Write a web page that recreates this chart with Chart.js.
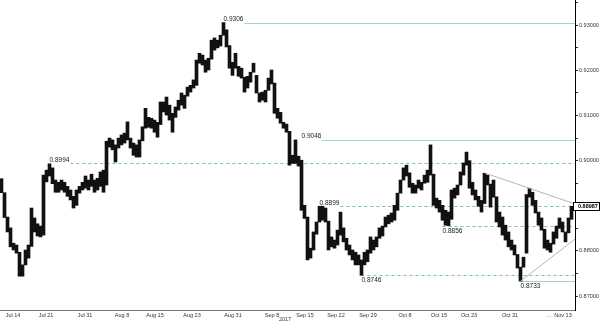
<!DOCTYPE html>
<html>
<head>
<meta charset="utf-8">
<script src="https://cdn.jsdelivr.net/npm/chart.js@4.4.0/dist/chart.umd.min.js"></script>
<style>
html,body{margin:0;padding:0;background:#fff;}
canvas{display:block;}
</style>
</head>
<body>
<canvas id="c" width="600" height="323"></canvas>
<script>
// ---- data (price highs / lows per period, left to right) ----
const highs = [
0.8960,0.8929,0.8875,0.8851,0.8817,0.8813,0.8797,0.8769,0.8802,0.8813,
0.8895,0.8873,0.8860,0.8855,0.8968,0.8979,0.8993,0.8984,0.8957,0.8952,
0.8957,0.8952,0.8943,0.8935,0.8921,0.8935,0.8943,0.8952,0.8966,0.8957,
0.8970,0.8957,0.8961,0.8975,0.8979,0.9043,0.9050,0.9046,0.9035,0.9050,
0.9057,0.9061,0.9086,0.9050,0.9039,0.9035,0.9046,0.9075,0.9116,0.9096,
0.9094,0.9090,0.9085,0.9130,0.9130,0.9141,0.9123,0.9105,0.9119,0.9134,
0.9150,0.9145,0.9163,0.9167,0.9179,0.9223,0.9238,0.9234,0.9223,0.9227,
0.9267,0.9272,0.9267,0.9278,0.9306,0.9290,0.9255,0.9218,0.9238,0.9209,
0.9205,0.9185,0.9187,0.9196,0.9216,0.9189,0.9150,0.9152,0.9156,0.9183,
0.9201,0.9172,0.9116,0.9107,0.9085,0.9081,0.9065,0.9012,0.9046,0.9010,
0.9001,0.8901,0.8875,0.8806,0.8842,0.8864,0.8899,0.8899,0.8895,0.8866,
0.8831,0.8824,0.8846,0.8886,0.8851,0.8828,0.8813,0.8802,0.8797,0.8791,
0.8780,0.8797,0.8802,0.8831,0.8824,0.8831,0.8851,0.8855,0.8875,0.8879,
0.8884,0.8901,0.8928,0.8957,0.8984,0.8990,0.8973,0.8950,0.8946,0.8957,
0.8952,0.8968,0.8979,0.9035,0.8970,0.8917,0.8912,0.8901,0.8890,0.8886,
0.8935,0.8939,0.8946,0.8975,0.8995,0.9019,0.9000,0.8952,0.8935,0.8921,
0.8912,0.8972,0.8968,0.8948,0.8957,0.8920,0.8886,0.8875,0.8857,0.8842,
0.8824,0.8813,0.8792,0.8764,0.8786,0.8925,0.8939,0.8930,0.8912,0.8886,
0.8873,0.8848,0.8824,0.8817,0.8842,0.8855,0.8873,0.8864,0.8842,0.8873,
0.8899
];
const lows = [
0.8929,0.8874,0.8842,0.8809,0.8802,0.8795,0.8744,0.8744,0.8769,0.8784,
0.8810,0.8842,0.8833,0.8831,0.8835,0.8953,0.8966,0.8949,0.8930,0.8930,
0.8935,0.8930,0.8921,0.8913,0.8895,0.8901,0.8928,0.8935,0.8939,0.8935,
0.8943,0.8930,0.8935,0.8943,0.8930,0.8946,0.9030,0.9024,0.8997,0.9028,
0.9035,0.9039,0.9046,0.9028,0.9012,0.9008,0.9008,0.9044,0.9072,0.9074,
0.9072,0.9063,0.9052,0.9080,0.9108,0.9101,0.9090,0.9063,0.9096,0.9112,
0.9123,0.9116,0.9143,0.9152,0.9161,0.9167,0.9216,0.9212,0.9196,0.9201,
0.9225,0.9245,0.9250,0.9254,0.9278,0.9252,0.9205,0.9189,0.9205,0.9187,
0.9183,0.9152,0.9161,0.9174,0.9196,0.9150,0.9130,0.9134,0.9130,0.9156,
0.9170,0.9105,0.9094,0.9083,0.9072,0.9063,0.8990,0.8994,0.8994,0.8988,
0.8890,0.8872,0.8780,0.8784,0.8802,0.8837,0.8864,0.8868,0.8864,0.8802,
0.8809,0.8806,0.8813,0.8835,0.8820,0.8802,0.8791,0.8780,0.8769,0.8769,
0.8746,0.8769,0.8776,0.8795,0.8802,0.8809,0.8828,0.8833,0.8853,0.8860,
0.8864,0.8868,0.8890,0.8928,0.8957,0.8966,0.8941,0.8928,0.8928,0.8939,
0.8935,0.8950,0.8952,0.8968,0.8901,0.8895,0.8886,0.8868,0.8857,0.8856,
0.8870,0.8917,0.8924,0.8946,0.8968,0.8990,0.8939,0.8924,0.8913,0.8899,
0.8886,0.8905,0.8946,0.8897,0.8919,0.8864,0.8853,0.8835,0.8824,0.8809,
0.8802,0.8791,0.8762,0.8733,0.8764,0.8795,0.8919,0.8901,0.8884,0.8857,
0.8846,0.8806,0.8802,0.8797,0.8815,0.8828,0.8850,0.8842,0.8820,0.8840,
0.8870
];
// date tick labels and the period index at which each sits
const tickLabels = ['Jul 14','Jul 21','Jul 31','Aug 8','Aug 15','Aug 23','Aug 31','Sep 8','Sep 15','Sep 22','Sep 29','Oct 8','Oct 15','Oct 23','Oct 31','...','Nov 13'];
const tickAt     = [3.83, 14.83, 27.83, 40.17, 51.17, 63.5, 77.17, 90.17, 101.17, 111.5, 122.17, 134.5, 145.83, 155.83, 169.5, 182.5, 187.17];
const yearLabel = '2017';
const yearAt = 94.5;
// support / resistance levels and the period where each is marked
const levelValues = [0.9306, 0.9046, 0.8994, 0.8899, 0.8856, 0.8746, 0.8733];
const levelFrom   = [74, 100, 16, 106, 147, 120, 173];
// triangle trend lines (period index, price)
const upperTrend = [{x:161, y:0.8973}, {x:191.17, y:0.8904}];
const lowerTrend = [{x:173, y:0.8733}, {x:191.17, y:0.8826}];
const lastClose = 0.88987;
const yMin = 0.86690, yMax = 0.93561;

// ---- styling for levels (kept apart from data) ----
const levelStyle = {
  '0.9306': {dash: false, below: false},
  '0.9046': {dash: false, below: false},
  '0.8994': {dash: true,  below: false},
  '0.8899': {dash: true,  below: false},
  '0.8856': {dash: true,  below: true},
  '0.8746': {dash: true,  below: true},
  '0.8733': {dash: false, below: true}
};
const FONT = '"Liberation Sans", Arial, sans-serif';

const levelsPlugin = {
  id: 'levels',
  beforeDatasetsDraw(chart) {
    const {ctx, chartArea, scales:{x, y}} = chart;
    ctx.save();
    ctx.font = '6.5px ' + FONT;
    levelValues.forEach((v, i) => {
      const key = v.toFixed(4);
      const st = levelStyle[key];
      const py = Math.round(y.getPixelForValue(v)) + 0.5;
      const px = x.getPixelForValue(levelFrom[i]);
      const w = ctx.measureText(key).width;
      const x0 = st.below ? px : px + w + 1;
      ctx.beginPath();
      ctx.lineWidth = 1;
      if (st.dash) { ctx.setLineDash([3, 3]); ctx.strokeStyle = 'rgb(120,192,178)'; }
      else { ctx.setLineDash([]); ctx.strokeStyle = 'rgb(160,210,200)'; }
      ctx.moveTo(x0, py);
      ctx.lineTo(chartArea.right, py);
      ctx.stroke();
    });
    ctx.restore();
  },
  afterDatasetsDraw(chart) {
    const {ctx, chartArea, scales:{x, y}} = chart;
    ctx.save();
    ctx.font = '6.5px ' + FONT;
    ctx.fillStyle = '#222';
    levelValues.forEach((v, i) => {
      const key = v.toFixed(4);
      const st = levelStyle[key];
      const py = y.getPixelForValue(v);
      const px = x.getPixelForValue(levelFrom[i]);
      if (st.below) { ctx.textBaseline = 'top'; ctx.fillText(key, px, py + 2); }
      else { ctx.textBaseline = 'alphabetic'; ctx.fillText(key, px, py - 1.5); }
    });
    // last price box
    const ly = y.getPixelForValue(lastClose);
    ctx.fillStyle = '#fff';
    ctx.strokeStyle = '#000';
    ctx.lineWidth = 1;
    ctx.fillRect(chartArea.right - 2, ly - 4, 27, 8);
    ctx.strokeRect(chartArea.right - 2 + 0.5, Math.round(ly - 4) + 0.5, 26, 8);
    ctx.fillStyle = '#000';
    ctx.font = 'bold 5.5px ' + FONT;
    ctx.textBaseline = 'middle';
    ctx.textAlign = 'left';
    ctx.fillText(lastClose.toFixed(5), chartArea.right + 3, ly + 0.5);
    // year label
    ctx.font = '5.5px ' + FONT;
    ctx.fillStyle = '#333';
    ctx.textAlign = 'center';
    ctx.fillText(yearLabel, x.getPixelForValue(yearAt), chartArea.bottom + 9.5);
    ctx.restore();
  }
};

function noPad(s) {
  s.paddingTop = 0; s.paddingBottom = 0; s.paddingLeft = 0; s.paddingRight = 0;
}

new Chart(document.getElementById('c'), {
  type: 'bar',
  data: {
    datasets: [
      {
        type: 'bar',
        data: highs.map((h, i) => ({x: i, y: [lows[i], h]})),
        backgroundColor: '#111',
        borderWidth: 0,
        barThickness: 3,
        grouped: false,
        order: 2
      },
      {
        type: 'line',
        data: upperTrend,
        borderColor: '#b4b4b4',
        borderWidth: 1,
        pointRadius: 0,
        order: 1
      },
      {
        type: 'line',
        data: lowerTrend,
        borderColor: '#b4b4b4',
        borderWidth: 1,
        pointRadius: 0,
        order: 1
      }
    ]
  },
  options: {
    responsive: false,
    animation: false,
    layout: {padding: 0, autoPadding: false},
    plugins: {legend: {display: false}, tooltip: {enabled: false}},
    scales: {
      x: {
        type: 'linear',
        offset: false,
        min: -0.5,
        max: 191.1667,
        afterBuildTicks: s => { s.ticks = tickAt.map(v => ({value: v})); },
        afterFit: s => { s.height = 13; noPad(s); },
        grid: {display: true, drawOnChartArea: false, drawTicks: false, offset: false},
        border: {display: true, color: '#777', dash: [1, 2]},
        ticks: {
          autoSkip: false, maxRotation: 0, padding: 2,
          color: '#333', font: {size: 5.5, family: FONT},
          callback: (v, i) => tickLabels[i]
        }
      },
      y: {
        position: 'right',
        min: yMin,
        max: yMax,
        afterBuildTicks: s => {
          const t = [];
          for (let k = 870; k <= 935; k += 5) t.push({value: k / 1000});
          s.ticks = t;
        },
        afterFit: s => { s.width = 25; noPad(s); },
        grid: {drawOnChartArea: false, drawTicks: true, tickLength: 3, color: '#333'},
        border: {display: true, color: '#000', width: 1},
        ticks: {
          padding: 1, color: '#333', font: {size: 5.5, family: FONT},
          callback: v => (Math.round(v * 1000) % 10 === 0) ? v.toFixed(5) : ''
        }
      }
    }
  },
  plugins: [levelsPlugin]
});
</script>
</body>
</html>
